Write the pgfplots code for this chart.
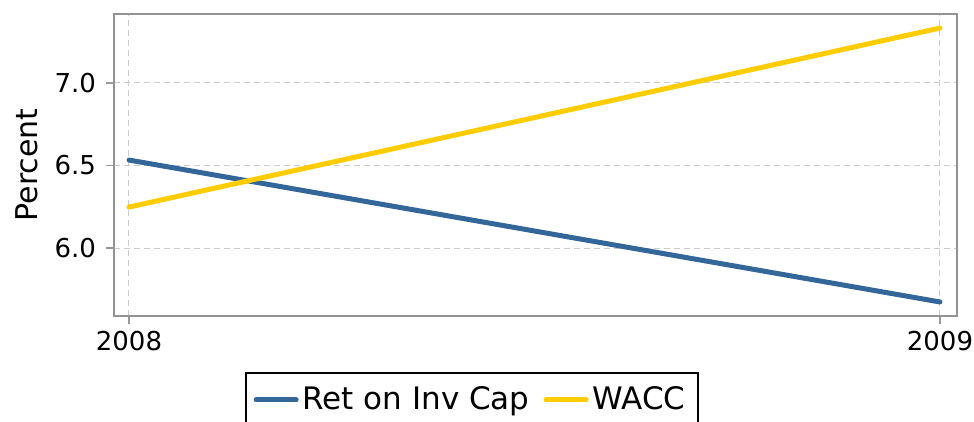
\documentclass[border=0pt]{standalone}
\usepackage{fontspec}
\setmainfont{DejaVu Sans}
\usepackage{pgfplots}
\pgfplotsset{compat=1.18}
\definecolor{roic}{HTML}{336699}
\definecolor{wacc}{HTML}{FFCC00}
\begin{document}
\begin{tikzpicture}
\begin{axis}[
  at={(0,0)}, anchor=south west,
  scale only axis, width=421.5pt, height=151pt,
  xmin=2007.9815, xmax=2009.021, ymin=5.588, ymax=7.418,
  xtick={2008,2009}, xticklabels={2008,2009},
  ytick={6.0,6.5,7.0}, yticklabels={6.0,6.5,7.0},
  xtick pos=left, ytick pos=left,
  tick align=outside, major tick length=4pt,
  tick style={draw=gray!80, line width=0.9pt},
  axis line style={draw=gray!85, line width=0.9pt},
  grid=major, grid style={dash pattern=on 3pt off 2pt, gray!40, line width=0.5pt},
  ylabel=Percent, ylabel style={font=\fontsize{15}{18}\selectfont, xshift=0pt, yshift=1.5pt},
  ticklabel style={font=\fontsize{13}{15}\selectfont},
  yticklabel style={xshift=-1.5pt},
  legend columns=2,
  legend style={at={(0.155,-0.1854)}, anchor=north west, draw=black, line width=1pt,
    font=\fontsize{15.5}{18}\selectfont, inner ysep=5pt, inner xsep=4pt,
    /tikz/every even column/.append style={column sep=5pt}},
  legend image code/.code={\draw[#1, line width=2.5pt, line cap=round] (0pt,0pt) -- (20pt,0pt);},
]
\addplot[roic, line width=2.5pt, line cap=round] coordinates {(2008,6.533) (2009,5.673)};
\addlegendentry{Ret on Inv Cap}
\addplot[wacc, line width=2.5pt, line cap=round] coordinates {(2008,6.248) (2009,7.333)};
\addlegendentry{WACC}
\end{axis}
\pgfresetboundingbox
\useasboundingbox (-57pt,-53pt) rectangle (430pt,158pt);
\end{tikzpicture}
\end{document}
